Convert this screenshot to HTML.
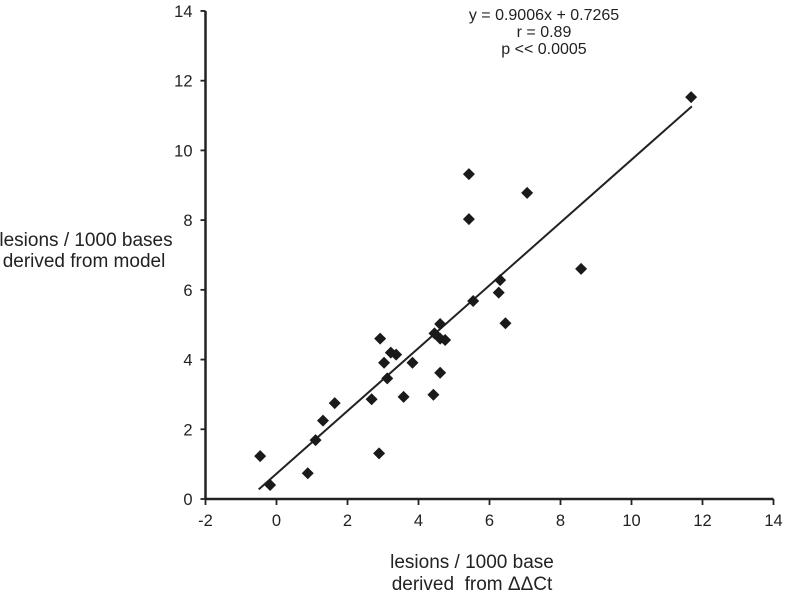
<!DOCTYPE html>
<html><head><meta charset="utf-8"><style>
body{margin:0;background:#fff}
svg{display:block;font-family:"Liberation Sans",sans-serif}
</style></head><body>
<svg id="chart" width="786" height="598">
<g id="axes"></g><g id="marks"></g>
<text x="544" y="20" font-size="16" text-anchor="middle" fill="#222">y = 0.9006x + 0.7265</text>
<text x="544" y="37" font-size="16" text-anchor="middle" fill="#222">r = 0.89</text>
<text x="544" y="54" font-size="16" text-anchor="middle" fill="#222">p &lt;&lt; 0.0005</text>
<text x="86" y="246" font-size="19" text-anchor="middle" fill="#222">lesions / 1000 bases</text>
<text x="84" y="267" font-size="19" text-anchor="middle" fill="#222">derived from model</text>
<text x="472" y="568" font-size="19" text-anchor="middle" fill="#222">lesions / 1000 base</text>
<text x="472" y="590" font-size="19" text-anchor="middle" fill="#222" xml:space="preserve">derived  from ΔΔCt</text>
</svg>
<script>
const xTicks=[-2,0,2,4,6,8,10,12,14];
const yTicks=[0,2,4,6,8,10,12,14];
const xs=[-0.46,-0.18,0.88,1.10,1.31,1.64,2.68,2.89,2.92,3.03,3.12,3.22,3.37,3.58,3.83,4.42,4.45,4.61,4.61,4.75,4.61,5.54,6.26,6.30,6.45,5.42,5.42,7.06,8.58,11.68];
const ys=[1.23,0.40,0.74,1.69,2.25,2.75,2.86,1.31,4.60,3.91,3.46,4.20,4.14,2.93,3.91,2.99,4.75,5.02,4.60,4.56,3.62,5.68,5.92,6.28,5.04,8.03,9.32,8.78,6.60,11.53];
const slope=0.9006, intercept=0.7265;
const fitRange=[-0.5,11.7];
const NS='http://www.w3.org/2000/svg';
const X=v=>276.5+v*35.5, Y=v=>499-v*34.86;
function mk(t,a,p){const e=document.createElementNS(NS,t);for(const k in a)e.setAttribute(k,a[k]);p.appendChild(e);return e;}
const ax=document.getElementById('axes'), mg=document.getElementById('marks');
let l=mk('line',{x1:X(-2),x2:X(14),y1:499,y2:499,stroke:'#222','stroke-width':2.5},ax);


l=mk('line',{x1:X(-2),x2:X(-2),y1:Y(0),y2:Y(14),stroke:'#222','stroke-width':2.5},ax);


xTicks.forEach(v=>{
 mk('line',{x1:X(v),x2:X(v),y1:499,y2:505,stroke:'#222','stroke-width':1.8},ax);
 const t=mk('text',{x:X(v),y:526,'font-size':16.5,'text-anchor':'middle',fill:'#222'},ax);t.textContent=v;
 
 
});
yTicks.forEach(v=>{
 mk('line',{x1:X(-2)-5,x2:X(-2),y1:Y(v),y2:Y(v),stroke:'#222','stroke-width':1.8},ax);
 const t=mk('text',{x:X(-2)-13,y:Y(v)+6,'font-size':16.5,'text-anchor':'end',fill:'#222'},ax);t.textContent=v;
 
 
});
l=mk('line',{x1:X(fitRange[0]),y1:Y(slope*fitRange[0]+intercept),x2:X(fitRange[1]),y2:Y(slope*fitRange[1]+intercept),stroke:'#222','stroke-width':2},mg);


xs.forEach((v,i)=>{
 const cx=X(v),cy=Y(ys[i]);
 const p=mk('polygon',{points:`${cx},${cy-6} ${cx+6},${cy} ${cx},${cy+6} ${cx-6},${cy}`,fill:'#1a1a1a'},mg);
 
 
});
</script>
</body></html>
